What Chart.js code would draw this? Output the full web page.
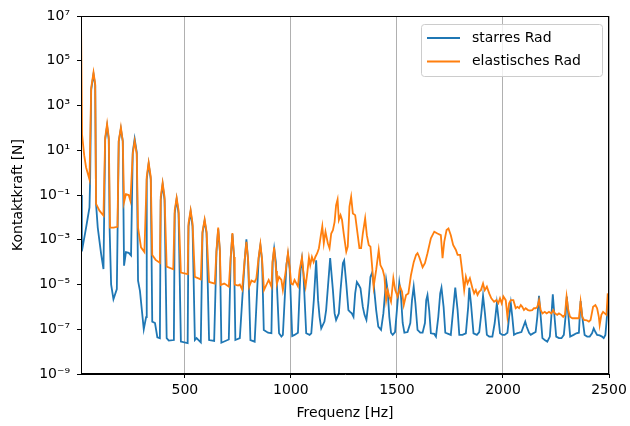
<!DOCTYPE html>
<html>
<head>
<meta charset="utf-8">
<script src="https://cdn.jsdelivr.net/npm/chart.js@4.4.0/dist/chart.umd.min.js"></script>
<style>
html, body { margin: 0; padding: 0; background: #fff; }
</style>
</head>
<body>
<canvas id="chart" width="630" height="426"></canvas>
<script>
// Frequenz [Hz], Kontaktkraft [N]
var starresRad = [
  [10,0.1],[14,3e-4],[34,3.5e-3],[50,0.028],[53,0.43],[58,5e3],[69,2.5e4],[77,8e3],[81,0.04],[89,3.5e-3],
  [105,2.3e-4],[116,4.9e-5],[124,30],[133,120],[141,30],[145,3e-3],[152,1e-5],[163,2.2e-6],[179,6.3e-6],
  [188,25],[198,90],[207,25],[213,6.9e-5],[222,2.8e-4],[235,2.6e-4],[246,2e-4],[254,8],[263,32],[273,8],
  [279,1.5e-5],[288,5.2e-6],[306,1e-7],[317,3.5e-7],[320,0.5],[329,2.5],[339,0.5],[346,2.2e-7],[359,1.9e-7],
  [370,4.4e-8],[382,4e-8],[386,0.06],[395,0.3],[404,0.06],[414,4e-8],[424,3.1e-8],[448,3.3e-8],
  [452,0.015],[461,0.065],[470,0.015],[481,2.8e-8],[513,2.4e-8],[517,4e-3],[527,0.018],[536,4e-3],
  [547,3.3e-8],[555,4e-8],[575,2.6e-8],[583,2e-3],[593,7e-3],[602,2e-3],[614,3.3e-8],[638,3e-8],
  [649,3e-4],[657,3e-3],[665,3e-4],[672,2.5e-8],[707,3.5e-8],[716,1.5e-4],[724,1.8e-3],[732,1.5e-4],
  [738,3.3e-8],[759,4e-8],[782,1.2e-4],[790,1.05e-3],[798,1.2e-4],[809,3.3e-8],[829,2.8e-8],
  [848,1.5e-4],[856,5.5e-4],[864,1.2e-4],[872,9.3e-8],[892,7e-8],[908,6.6e-8],[914,1e-4],[921,4e-4],
  [929,1e-4],[944,6.6e-8],[955,4.7e-8],[962,5.6e-8],[979,8e-5],[986,2.2e-4],[994,5e-5],[1006,5e-8],
  [1017,5.6e-8],[1033,7e-8],[1045,4e-5],[1052,1.4e-4],[1059,3e-5],[1072,6.6e-8],[1088,5.6e-8],[1096,6.6e-8],
  [1108,2e-6],[1119,1.2e-4],[1128,2e-6],[1135,3.6e-7],[1143,1.1e-7],[1158,2.2e-7],[1166,7.2e-7],[1185,1.5e-4],
  [1198,5.6e-6],[1206,5.1e-7],[1213,2.6e-7],[1226,5.1e-7],[1234,5.6e-6],[1245,9e-5],[1251,1.2e-4],[1261,1.1e-5],
  [1271,7.2e-7],[1279,6e-7],[1287,5.1e-7],[1295,3.6e-7],[1303,4e-6],[1311,1.3e-5],[1320,9.5e-6],[1328,6.8e-6],
  [1339,1e-6],[1347,4.4e-7],[1356,2.6e-7],[1365,1.45e-6],[1375,2.2e-5],[1383,3.4e-5],[1390,1.1e-5],[1402,7.2e-7],
  [1412,1.3e-7],[1425,9.3e-8],[1436,5.1e-7],[1449,1.6e-5],[1456,5.6e-6],[1464,3.6e-7],[1472,7e-8],[1480,5.6e-8],
  [1491,7.5e-8],[1501,1e-6],[1511,1.2e-5],[1519,2.9e-6],[1527,1.9e-7],[1535,7e-8],[1550,7.5e-8],[1563,1.9e-7],
  [1571,2e-6],[1579,8e-6],[1587,1.45e-6],[1597,9.3e-8],[1610,7e-8],[1621,7e-8],[1632,1.9e-7],[1638,2e-6],
  [1644,3.4e-6],[1652,7.2e-7],[1660,6.6e-8],[1676,6.2e-8],[1684,4.7e-8],[1695,3.6e-7],[1704,4e-6],[1710,7.2e-6],
  [1720,1e-6],[1728,7e-8],[1742,6.2e-8],[1754,5.6e-8],[1765,7.2e-7],[1775,7.2e-6],[1786,7.2e-7],[1794,5.6e-8],
  [1809,5.6e-8],[1825,6.6e-8],[1836,1e-6],[1841,7.2e-6],[1849,1.45e-6],[1861,6.6e-8],[1877,5.6e-8],[1888,7.5e-8],
  [1898,5.1e-7],[1906,3.1e-6],[1915,5.1e-7],[1924,5.6e-8],[1935,4.7e-8],[1950,4.7e-8],[1961,1.9e-7],[1971,1.45e-6],
  [1978,3.6e-7],[1986,6.6e-8],[1997,5.6e-8],[2008,5.6e-8],[2021,7e-8],[2029,3.6e-7],[2037,1.45e-6],[2044,3.6e-7],
  [2052,5.6e-8],[2065,6.6e-8],[2076,7e-8],[2087,7.5e-8],[2096,1.3e-7],[2105,2.2e-7],[2112,1.3e-7],[2123,7e-8],
  [2131,5.6e-8],[2138,6.2e-8],[2154,7.5e-8],[2162,3.6e-7],[2170,3.1e-6],[2178,3.6e-7],[2186,4e-8],[2197,3.3e-8],
  [2209,2.8e-8],[2221,4.7e-8],[2228,3.6e-7],[2235,3.6e-6],[2243,3.6e-7],[2251,4.7e-8],[2264,4e-8],[2276,4e-8],
  [2287,5.6e-8],[2295,3.6e-7],[2301,2.9e-6],[2309,3.6e-7],[2317,4.7e-8],[2333,5.6e-8],[2346,6.6e-8],[2358,7e-8],
  [2366,1.8e-6],[2374,3.6e-7],[2385,5.6e-8],[2397,4.7e-8],[2409,4.7e-8],[2420,6.6e-8],[2428,1.1e-7],[2436,7.5e-8],
  [2444,5.6e-8],[2456,5.3e-8],[2467,4.7e-8],[2475,4e-8],[2483,5.6e-8],[2491,4.4e-7],[2496,2e-6]
];

var elastischesRad = [
  [10,1e7],[15,50],[25,6],[34,1.7],[50,0.5],[58,6e3],[69,3e4],[77,9e3],[81,0.04],[97,0.02],[116,0.012],
  [124,37],[133,150],[141,37],[147,3.5e-3],[163,3.5e-3],[182,3.8e-3],[188,26],[198,105],[207,26],[213,0.047],
  [222,0.11],[235,0.1],[243,0.055],[254,6.8],[263,26],[273,6.8],[279,3.5e-3],[293,4.6e-4],[309,2.8e-4],
  [320,0.65],[329,2.8],[339,0.65],[346,2.1e-4],[362,1.26e-4],[382,9.3e-5],[386,0.083],[395,0.35],[404,0.083],
  [414,6.3e-5],[445,4.8e-5],[452,0.021],[461,0.074],[470,0.021],[481,3.4e-5],[513,2.9e-5],[517,5.4e-3],
  [527,0.021],[536,5.4e-3],[547,2.2e-5],[575,1.7e-5],[583,2.3e-3],[593,8e-3],[602,2.3e-3],[614,1.3e-5],
  [641,1.1e-5],[649,3.5e-4],[657,3.5e-3],[665,3.5e-4],[669,9.5e-6],[685,1.1e-5],[693,1e-5],[707,8e-6],
  [716,1.7e-4],[724,2e-3],[732,1.7e-4],[735,1e-5],[751,9e-6],[759,1e-5],[770,6e-6],[782,1.3e-4],[790,8e-4],
  [798,1.3e-4],[803,8e-6],[814,1.5e-5],[829,1.3e-5],[837,1.9e-5],[848,1.7e-4],[856,6.3e-4],[864,1.3e-4],
  [873,5.6e-6],[884,9.5e-6],[895,1.6e-5],[908,8e-6],[913,1e-4],[921,4.6e-4],[930,4e-5],[934,1.1e-5],
  [944,2.2e-5],[955,1.6e-5],[962,5.6e-6],[975,3.7e-5],[986,2.6e-4],[994,6.3e-5],[1001,1.1e-5],[1009,1e-5],
  [1017,1.6e-5],[1033,8.3e-6],[1041,4.5e-5],[1052,1.6e-4],[1061,2.2e-5],[1069,8e-6],[1077,3.2e-5],[1085,1.6e-4],
  [1091,7.4e-5],[1099,1.7e-4],[1107,1e-4],[1115,1.7e-4],[1124,2.5e-4],[1132,4.2e-4],[1140,1.35e-3],[1148,4e-3],
  [1155,7e-4],[1163,2.3e-3],[1174,7e-4],[1182,4.2e-4],[1190,1.9e-3],[1198,2.7e-3],[1206,6.3e-3],[1213,0.035],
  [1220,0.063],[1226,7.6e-3],[1234,0.0126],[1241,7.6e-3],[1249,1.9e-3],[1261,2.9e-4],[1268,4.9e-4],[1276,0.03],
  [1284,0.083],[1292,0.015],[1303,0.0126],[1312,2.7e-3],[1323,4.2e-4],[1331,4.2e-4],[1339,1.9e-3],[1350,9e-3],
  [1358,1.6e-3],[1367,5.8e-4],[1375,4.9e-4],[1383,6.3e-5],[1390,8e-6],[1402,4.5e-5],[1414,3.5e-4],[1422,7.4e-5],
  [1433,4.5e-5],[1441,2.2e-5],[1449,2e-6],[1456,5.6e-6],[1464,2.9e-6],[1472,1.7e-6],[1483,1.9e-5],[1492,5.6e-6],
  [1503,2.9e-6],[1515,8e-6],[1524,4.8e-6],[1532,1.2e-6],[1543,3.4e-6],[1554,4e-6],[1566,2.6e-5],[1579,1e-4],
  [1590,2.1e-4],[1597,2.5e-4],[1605,1.7e-4],[1621,5.9e-5],[1632,8.9e-5],[1644,2.5e-4],[1660,1.15e-3],[1676,2.3e-3],
  [1691,1.9e-3],[1707,1.6e-3],[1715,1.5e-4],[1723,8e-4],[1734,2.7e-3],[1743,3.2e-3],[1754,1.6e-3],[1765,5.8e-4],
  [1778,3.5e-4],[1786,2.1e-4],[1798,2.1e-4],[1806,5.2e-5],[1817,5.6e-6],[1825,2.2e-5],[1833,1.1e-5],[1844,1.9e-5],
  [1856,6.8e-6],[1864,4e-6],[1872,5.6e-6],[1880,3.4e-6],[1888,4.8e-6],[1896,5.6e-6],[1906,1.1e-5],[1914,5.6e-6],
  [1924,8e-6],[1935,4e-6],[1945,2.4e-6],[1958,1.7e-6],[1969,2e-6],[1978,1.45e-6],[1986,2.4e-6],[1994,1.45e-6],
  [2002,2.9e-6],[2013,2e-6],[2021,3.6e-7],[2029,1.45e-6],[2037,2e-6],[2049,2e-6],[2060,8.7e-7],[2068,1e-6],
  [2076,8.7e-7],[2084,1.2e-6],[2091,1e-6],[2099,7.2e-7],[2107,8.7e-7],[2118,7.2e-7],[2127,6.8e-7],[2138,7.2e-7],
  [2146,8.7e-7],[2154,8.7e-7],[2162,1e-6],[2170,2e-6],[2178,7.2e-7],[2186,5.1e-7],[2197,6e-7],[2206,5.1e-7],
  [2217,6e-7],[2228,5.1e-7],[2237,7.2e-7],[2245,5.1e-7],[2256,4.4e-7],[2264,5.1e-7],[2275,4.4e-7],[2284,3.6e-7],
  [2292,4.4e-7],[2300,2.9e-6],[2308,7.2e-7],[2316,3.6e-7],[2327,3.1e-7],[2347,3.1e-7],[2358,3.1e-7],[2366,1.7e-6],
  [2374,3.6e-7],[2382,2.6e-7],[2395,2.5e-7],[2405,2.2e-7],[2413,2.6e-7],[2425,1e-6],[2436,1.2e-6],[2444,8.7e-7],
  [2452,3.6e-7],[2456,1.55e-7],[2464,4.4e-7],[2472,6e-7],[2480,5.1e-7],[2488,4.4e-7],[2494,4e-6]
];

var xTicks = [500, 1000, 1500, 2000, 2500];
var yTicks = [1e7, 1e5, 1e3, 1e1, 1e-1, 1e-3, 1e-5, 1e-7, 1e-9];
var yTickLabels = ['10⁷', '10⁵', '10³', '10¹', '10⁻¹', '10⁻³', '10⁻⁵', '10⁻⁷', '10⁻⁹'];

var FONT = 'DejaVu Sans';

function toPoints(arr) {
    return arr.map(function(p) { return {x: p[0], y: p[1]}; });
}

// Rahmen oben/rechts wie bei matplotlib
var framePlugin = {
    id: 'frame',
    afterDatasetsDraw: function(chart) {
        var a = chart.chartArea;
        var ctx = chart.ctx;
        ctx.save();
        ctx.strokeStyle = '#000';
        ctx.lineWidth = 1;
        ctx.strokeRect(Math.round(a.left) + 0.5, Math.round(a.top) + 0.5,
            Math.round(a.right - a.left) - 1, Math.round(a.bottom - a.top) - 1);
        ctx.restore();
    }
};

// Legende im Diagramm, oben rechts
var legendPlugin = {
    id: 'boxLegend',
    afterDraw: function(chart) {
        var ctx = chart.ctx;
        var a = chart.chartArea;
        var sets = chart.data.datasets.slice().sort(function(p, q) { return p.legendIndex - q.legendIndex; });
        var w = 181, h = 52;
        var x0 = a.right - 7 - w, y0 = a.top + 8;
        ctx.save();
        ctx.beginPath();
        ctx.roundRect(x0 + 0.5, y0 + 0.5, w, h, 3);
        ctx.fillStyle = 'rgba(255,255,255,0.8)';
        ctx.fill();
        ctx.strokeStyle = '#cccccc';
        ctx.lineWidth = 1;
        ctx.stroke();
        ctx.font = '14px "' + FONT + '"';
        ctx.textBaseline = 'middle';
        ctx.fillStyle = '#000';
        sets.forEach(function(ds, i) {
            var y = y0 + 14 + i * 23.5;
            ctx.beginPath();
            ctx.moveTo(x0 + 6, y);
            ctx.lineTo(x0 + 39, y);
            ctx.strokeStyle = ds.borderColor;
            ctx.lineWidth = 2;
            ctx.stroke();
            ctx.fillText(ds.label, x0 + 51, y);
        });
        ctx.restore();
    }
};

var ctx = document.getElementById('chart').getContext('2d');
var kraftChart = new Chart(ctx, {
    type: 'line',
    data: {
        datasets: [{
            label: 'starres Rad',
            data: toPoints(starresRad),
            borderColor: '#1f77b4',
            borderWidth: 1.8,
            pointRadius: 0,
            tension: 0,
            fill: false,
            order: 1,
            legendIndex: 0
        }, {
            label: 'elastisches Rad',
            data: toPoints(elastischesRad),
            borderColor: '#ff7f0e',
            borderWidth: 1.8,
            pointRadius: 0,
            tension: 0,
            fill: false,
            order: 0,
            legendIndex: 1
        }]
    },
    options: {
        responsive: false,
        animation: false,
        devicePixelRatio: 1,
        layout: { padding: { left: 0, top: 16, right: 21, bottom: 0 } },
        plugins: {
            legend: { display: false },
            tooltip: { enabled: false }
        },
        scales: {
            x: {
                type: 'linear',
                min: 10,
                max: 2500,
                afterBuildTicks: function(s) { s.ticks = xTicks.map(function(v) { return {value: v}; }); },
                afterFit: function(s) {
                    s.height = 52;
                    s.paddingLeft = 0;
                    s.paddingRight = 0;
                },
                ticks: {
                    color: '#000',
                    font: { family: FONT, size: 14 },
                    padding: 4,
                    maxRotation: 0,
                    autoSkip: false,
                    callback: function(value) { return String(value); }
                },
                grid: {
                    color: '#b0b0b0',
                    lineWidth: 1,
                    tickColor: '#000',
                    tickWidth: 1,
                    tickLength: 4
                },
                border: { display: true, color: '#000', width: 1 },
                title: {
                    display: true,
                    text: 'Frequenz [Hz]',
                    color: '#000',
                    font: { family: FONT, size: 14 },
                    padding: { top: 0, bottom: 4 }
                }
            },
            y: {
                type: 'logarithmic',
                min: 1e-9,
                max: 1e7,
                afterBuildTicks: function(s) { s.ticks = yTicks.map(function(v) { return {value: v}; }); },
                afterFit: function(s) {
                    s.width = 81;
                    s.paddingTop = 0;
                    s.paddingBottom = 0;
                },
                ticks: {
                    color: '#000',
                    font: { family: FONT, size: 14 },
                    padding: 7,
                    autoSkip: false,
                    callback: function(value) { return yTickLabels[yTicks.indexOf(value)]; }
                },
                grid: {
                    drawOnChartArea: false,
                    color: '#000',
                    tickColor: '#000',
                    tickLength: 4
                },
                border: { display: true, color: '#000', width: 1 },
                title: {
                    display: true,
                    text: 'Kontaktkraft [N]',
                    color: '#000',
                    font: { family: FONT, size: 14 },
                    padding: { top: 10, bottom: 0 }
                }
            }
        }
    },
    plugins: [framePlugin, legendPlugin]
});
</script>
</body>
</html>
